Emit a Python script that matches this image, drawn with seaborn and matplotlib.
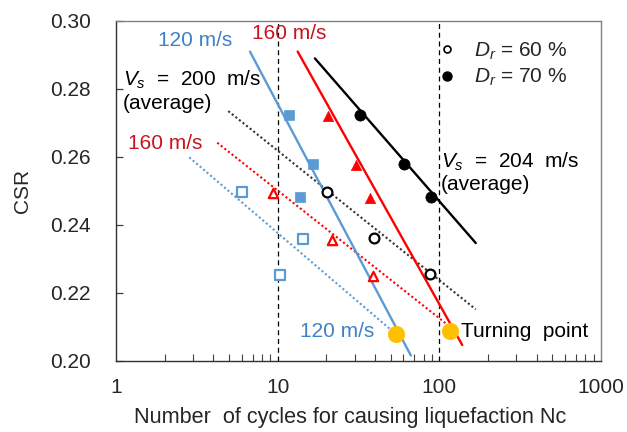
import numpy as np
import pandas as pd
import matplotlib
matplotlib.use("Agg")
import matplotlib.pyplot as plt
from matplotlib.lines import Line2D
from matplotlib.ticker import FixedLocator, LogLocator, NullFormatter
import seaborn as sns

sns.set_theme(style="white")
plt.rcParams["font.family"] = ["Liberation Sans", "DejaVu Sans"]
plt.rcParams["mathtext.fontset"] = "custom"
plt.rcParams["mathtext.rm"] = "Liberation Sans"
plt.rcParams["mathtext.it"] = "Liberation Sans:italic"

# ---- test results: cycles to liquefaction vs cyclic stress ratio ----
n_dr70 = [32.3, 60.7, 88.7]
csr_dr70 = [0.2724, 0.2579, 0.2481]
n_dr60 = [20.1, 39.4, 87.9]
csr_dr60 = [0.2498, 0.2361, 0.2255]

n_160_dense = [20.4, 30.5, 37.2]
csr_160_dense = [0.2721, 0.2576, 0.2480]
n_160_loose = [9.3, 21.6, 39.0]
csr_160_loose = [0.2495, 0.2356, 0.2251]

n_120_dense = [11.8, 16.5, 13.7]
csr_120_dense = [0.2724, 0.2579, 0.2481]
n_120_loose = [6.0, 14.4, 10.4]
csr_120_loose = [0.2497, 0.2360, 0.2254]

# ---- trend lines (end points) ----
fit_204_n = [17.0, 168.0]
fit_204_csr = [0.2890, 0.2347]
fit_200_n = [4.95, 168.0]
fit_200_csr = [0.2735, 0.2152]
fit_160s_n = [13.3, 138.6]
fit_160s_csr = [0.2910, 0.2047]
fit_160d_n = [4.23, 116.3]
fit_160d_csr = [0.2642, 0.2101]
fit_120s_n = [6.74, 66.7]
fit_120s_csr = [0.2910, 0.2016]
fit_120d_n = [2.84, 53.9]
fit_120d_csr = [0.2599, 0.2079]

# turning points
turn_n = [54.0, 117.0]
turn_csr = [0.2080, 0.2088]

# axis ticks
x_ticks = [1, 10, 100, 1000]
x_tick_labels = ["1", "10", "100", "1000"]
y_ticks = [0.20, 0.22, 0.24, 0.26, 0.28, 0.30]
y_tick_labels = ["0.20", "0.22", "0.24", "0.26", "0.28", "0.30"]
ref_cycles = [10, 100]

BLUE = "#5B9BD5"
BLUE_TXT = "#3F82C6"
RED = "#FF0000"
RED_TXT = "#C8141E"
ORANGE = "#FFC000"
FS = 15

fig = plt.figure(figsize=(6.27, 4.32), dpi=100)
ax = fig.add_axes([116 / 627, 1 - 361 / 432, 485 / 627, 340 / 432])
ax.set_xscale("log")

for xv in ref_cycles:
    ax.axvline(xv, color="black", lw=0.9, ls=(0, (4, 3)), zorder=1)


def line(n, c, color, style, lw):
    df = pd.DataFrame({"N": n, "CSR": c})
    sns.lineplot(data=df, x="N", y="CSR", ax=ax, color=color, lw=lw,
                 linestyle=style, sort=False, estimator=None, zorder=2)


dot = (0, (1, 1.2))
line(fit_204_n, fit_204_csr, "black", "-", 1.7)
line(fit_200_n, fit_200_csr, "#333333", dot, 1.5)
line(fit_160s_n, fit_160s_csr, RED, "-", 1.7)
line(fit_160d_n, fit_160d_csr, RED, dot, 1.5)
line(fit_120s_n, fit_120s_csr, BLUE, "-", 1.7)
line(fit_120d_n, fit_120d_csr, BLUE, dot, 1.5)


def pts(n, c, marker, face, edge, size, lw=1.6):
    df = pd.DataFrame({"N": n, "CSR": c})
    sns.scatterplot(data=df, x="N", y="CSR", ax=ax, marker=marker, s=size,
                    facecolor=face, edgecolor=edge, linewidth=lw, zorder=4)


pts(n_dr70, csr_dr70, "o", "black", "black", 65, 0.5)
pts(n_dr60, csr_dr60, "o", "white", "black", 50)
pts(n_160_dense, csr_160_dense, "^", RED, RED, 55, 0.5)
pts(n_160_loose, csr_160_loose, "^", "white", RED, 45)
pts(n_120_dense, csr_120_dense, "s", BLUE, BLUE, 50, 0.5)
pts(n_120_loose, csr_120_loose, "s", "white", BLUE, 45)
pts(turn_n, turn_csr, "o", ORANGE, ORANGE, 140, 0.5)

ax.set_xlim(1, 1000)
ax.set_ylim(0.20, 0.30)
ax.xaxis.set_major_locator(FixedLocator(x_ticks))
ax.set_xticklabels(x_tick_labels)
ax.xaxis.set_minor_locator(LogLocator(base=10, subs=np.arange(2, 10)))
ax.xaxis.set_minor_formatter(NullFormatter())
ax.set_yticks(y_ticks)
ax.set_yticklabels(y_tick_labels)
ax.tick_params(axis="x", which="major", direction="in", length=7, width=0.9,
               labelsize=FS, pad=12, color="#404040", top=False)
ax.tick_params(axis="x", which="minor", direction="in", length=5, width=0.8,
               color="#404040", bottom=True, top=False)
ax.tick_params(axis="y", which="major", direction="in", length=5, width=0.9,
               labelsize=FS, pad=18, color="#404040", right=False, left=True)
for side in ["left", "bottom"]:
    ax.spines[side].set_color("#303030")
for side in ["top", "right"]:
    ax.spines[side].set_color("#808080")
for s in ax.spines.values():
    s.set_linewidth(1.0)

ax.set_xlabel("Number  of cycles for causing liquefaction Nc", fontsize=15.6, labelpad=7)
ax.xaxis.set_label_coords(0.483, -0.135)
ax.set_ylabel("CSR", fontsize=FS, labelpad=13)

# annotations
ax.text(1.82, 0.2944, "120 m/s", color=BLUE_TXT, fontsize=FS, va="center")
ax.text(6.9, 0.2963, "160 m/s", color=RED_TXT, fontsize=FS, va="center")
ax.text(1.10, 0.2828, r"$V_s$  =  200  m/s", color="black", fontsize=FS, va="center")
ax.text(1.10, 0.2758, "(average)", color="black", fontsize=FS, va="center")
ax.text(1.19, 0.2641, "160 m/s", color=RED_TXT, fontsize=FS, va="center")
ax.text(102, 0.2585, r"$V_s$  =  204  m/s", color="black", fontsize=FS, va="center")
ax.text(102, 0.2520, "(average)", color="black", fontsize=FS, va="center")
ax.text(13.7, 0.2088, "120 m/s", color=BLUE_TXT, fontsize=FS, va="center")
ax.text(136, 0.2086, "Turning  point", color="black", fontsize=FS, va="center")

handles = [
    Line2D([], [], marker="o", ls="none", mfc="white", mec="black", ms=5, mew=1.2,
           label=r"$D_r$ = 60 %"),
    Line2D([], [], marker="o", ls="none", mfc="black", mec="black", ms=6.5,
           label=r"$D_r$ = 70 %"),
]
ax.legend(handles=handles, loc="upper left", bbox_to_anchor=(0.64, 0.985),
          frameon=False, fontsize=FS, handlelength=0.6, handletextpad=1.0,
          labelspacing=0.25, borderpad=0.2)

fig.savefig("out.png", dpi=100)
